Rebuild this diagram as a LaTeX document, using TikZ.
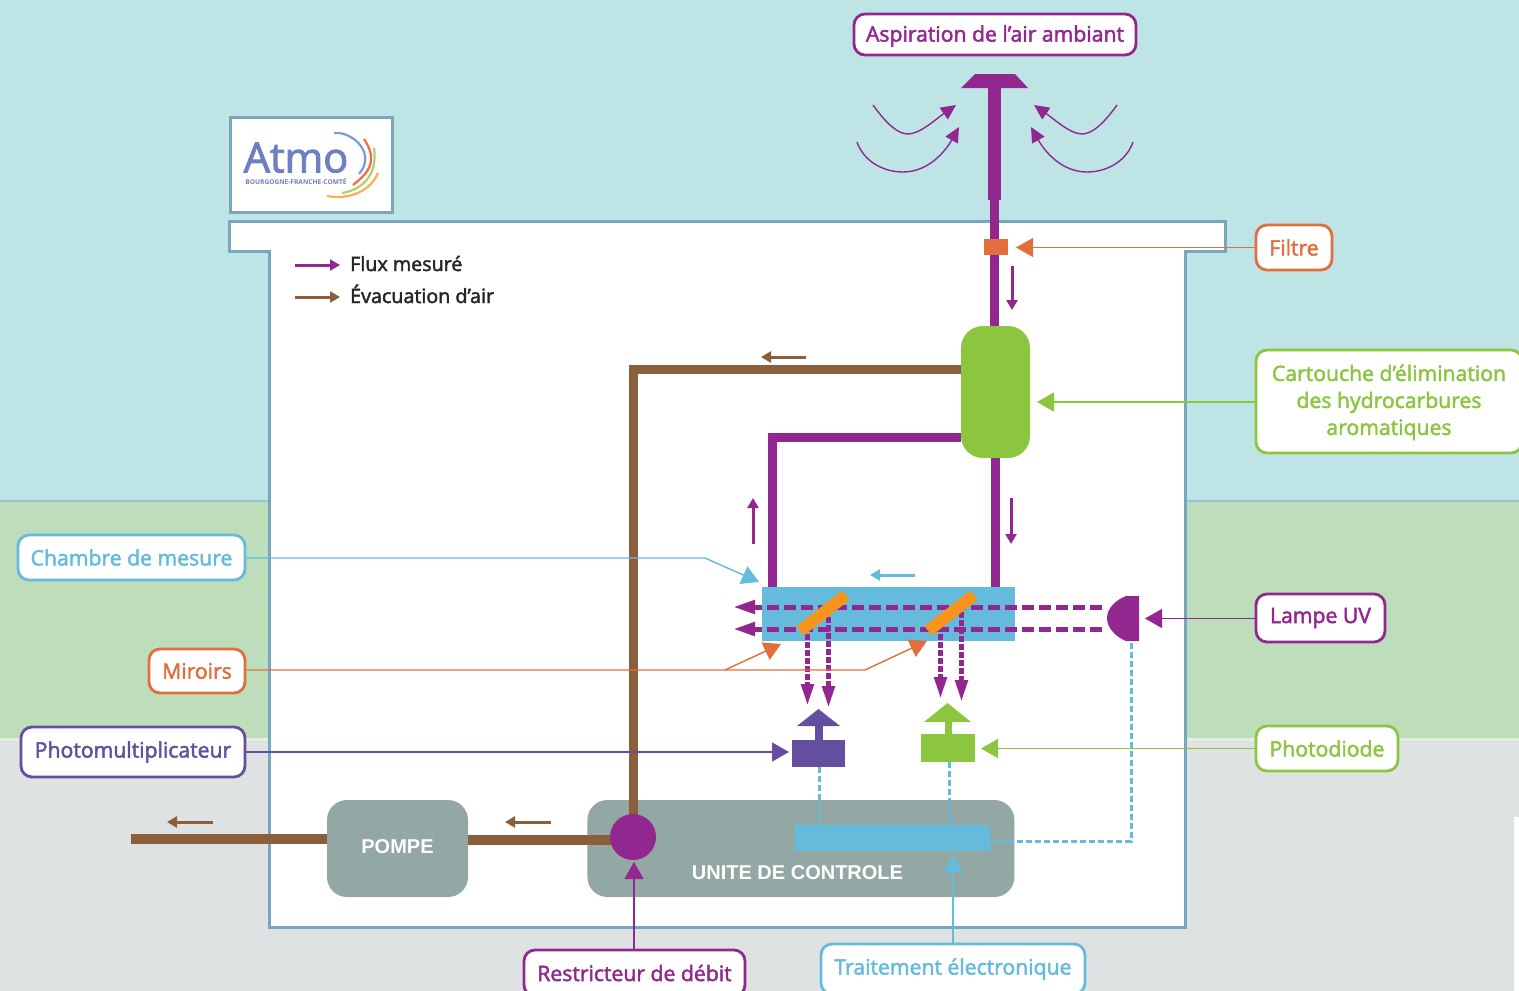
\documentclass[tikz,border=0pt]{standalone}
\usepackage{fontspec}
\setmainfont{Open Sans}
\newfontfamily\gras[RawFeature={embolden=2.2}]{Open Sans}
\newfontfamily\bandfont{Liberation Sans}
\usepackage{xcolor}
\usetikzlibrary{arrows.meta, positioning}

\definecolor{ciel}{HTML}{BFE4E6}
\definecolor{herbe}{HTML}{BEDDBB}
\definecolor{sol}{HTML}{DEE2E3}
\definecolor{mur}{HTML}{78A6BC}
\definecolor{flux}{HTML}{92278F}
\definecolor{evac}{HTML}{8B5E3C}
\definecolor{vert}{HTML}{8CC63F}
\definecolor{roux}{HTML}{E06F3D}
\definecolor{bleu}{HTML}{64BBDC}
\definecolor{indigo}{HTML}{644E9F}
\definecolor{gris}{HTML}{93A8A4}
\definecolor{miroir}{HTML}{F7941D}
\definecolor{atmo}{HTML}{6F7FC0}

\begin{document}
\begin{tikzpicture}[x=1pt, y=-1pt,
	bloc/.style={inner sep=0pt, minimum width=#1},
	lbl/.style={draw=#1, text=#1, fill=white, line width=2.8pt, rounded corners=11pt, align=center, inner sep=0pt, font=\gras\fontsize{21.2}{27}\selectfont},
	lien/.style={draw=#1, line width=1.4pt, -{Triangle[length=17pt, width=19pt, fill=#1]}},
	petite/.style={draw=#1, line width=3pt, -{Triangle[length=10pt, width=11pt, fill=#1]}},
	courbe/.style={draw=flux, line width=1.4pt, -{Triangle[length=15pt, width=14pt, fill=flux]}},
	rayon/.style={draw=flux, line width=5pt, dash pattern=on 12pt off 5pt, -{Triangle[length=22pt, width=13pt, fill=flux]}},
	sortie/.style={draw=flux, line width=5pt, dash pattern=on 5.5pt off 2.5pt, -{Triangle[length=22pt, width=12pt, fill=flux]}},
	signal/.style={draw=bleu, line width=3pt, dash pattern=on 6pt off 3pt},
	legende/.style={anchor=base west, inner sep=0pt, text=black!85, font=\gras\fontsize{19.7}{24}\selectfont},
	arc/.style={draw=#1, line width=2.2pt},
]
	\useasboundingbox (0,0) rectangle (1519,991);

	% fond
	\fill[ciel] (0,0) rectangle (1519,501);
	\fill[herbe] (0,501) rectangle (1519,740);
	\fill[sol] (0,740) rectangle (1519,991);
	\fill[white] (1514,817) rectangle (1519,991);
	\draw[mur!55!ciel, line width=2pt] (0,501) -- (1519,501);
	\draw[herbe!45!white, line width=2.5pt] (0,739.5) -- (1519,739.5);

	% batiment
	\draw[mur, line width=3pt, fill=white] (229,221) -- (1225,221) -- (1225,251) -- (1185,251) -- (1185,927) -- (269,927) -- (269,251) -- (229,251) -- cycle;

	% logo
	\node[draw=mur, line width=3pt, fill=white, inner sep=0pt, minimum width=162pt, minimum height=95pt] (logo) at (311,165) {};
	\node[text=atmo, inner sep=0pt, align=center] (atmo) at (296,163.5) {\gras\fontsize{41.5}{41.5}\selectfont Atmo\\\rmfamily\bfseries\fontsize{6.6}{9}\selectfont BOURGOGNE-FRANCHE-COMTÉ};
	\draw[arc=cyan!45!blue!55!white] (334,133) .. controls (352,131) and (377,153) .. (359,174);
	\draw[arc=red!60!orange!75] (364,139) .. controls (378,160) and (370,172) .. (353,185);
	\draw[arc=vert!75] (374,148) .. controls (378,175) and (362,190) .. (342,193);
	\draw[arc=orange!65] (378,173) .. controls (370,192) and (348,200) .. (327,196);

	% legende
	\coordinate (legA) at (295,265);
	\coordinate (legB) at (295,297);
	\coordinate (legAb) at (340,265);
	\coordinate (legBb) at (340,297);
	\node[legende] (fluxtxt) at (350,271) {Flux mesuré};
	\node[legende] (evactxt) at (350,303) {Évacuation d’air};
	\path (legA) edge[petite=flux] (legAb);
	\path (legB) edge[petite=evac] (legBb);

	% boites
	\node[fill=vert, rounded corners=22pt, bloc=69pt, minimum height=132pt] (cartouche) at (995.5,392) {};
	\node[fill=gris, rounded corners=20pt, bloc=141pt, minimum height=97pt] (pompe) at (397.5,848.5) {};
	\node[fill=gris, rounded corners=20pt, bloc=427pt, minimum height=97pt] (unite) [right=119pt of pompe] {};
	\node[fill=bleu, bloc=195pt, minimum height=26pt] (traitement) at (892.5,838) {};
	\node[fill=bleu, bloc=253pt, minimum height=54pt] (chambre) at (888.5,614) {};
	\node[fill=flux, bloc=13pt, minimum height=112pt] (tige) at (994.5,144) {};
	\node[text=white, font=\bandfont\bfseries\fontsize{20}{24}\selectfont] (pompetxt) at (397.5,847) {POMPE};
	\node[text=white, font=\bandfont\bfseries\fontsize{20}{24}\selectfont] (unitetxt) at (797.5,873) {UNITE DE CONTROLE};
	\fill[flux] (961,88) -- (975,74) -- (1015,74) -- (1028,88) -- cycle;

	% canalisations
	\coordinate (coudeA) at (633,369);
	\coordinate (coudeB) at (772,437);
	\coordinate (cartA) at (961,369);
	\coordinate (cartB) at (961,437);
	\coordinate (chamB) at (772,587);
	\coordinate (chamC) at (995,587);
	\coordinate (cartC) at (995,458);
	\coordinate (centreR) at (633,837);
	\draw[evac, line width=9pt] (cartA) -- (coudeA) -- (centreR);
	\draw[evac, line width=10pt] (pompe.east |- 0,840) -- (centreR |- 0,840);
	\draw[evac, line width=10pt] (131,839) coordinate (rejet) -- (pompe.west |- rejet);
	\draw[flux, line width=9pt] (tige.south) -- (tige.south |- cartouche.north);
	\draw[flux, line width=9pt] (cartC) -- (chamC);
	\draw[flux, line width=9pt] (cartB) -- (coudeB) -- (chamB);
	\node[fill=roux, bloc=24pt, minimum height=16pt] (filtre) [above=71pt of cartouche] {};
	\node[fill=flux, circle, inner sep=0pt, minimum size=46pt] (restricteur) at (centreR) {};

	% air ambiant
	\draw[courbe] (873,105) .. controls (888,126) and (899,134) .. (908,134) .. controls (920,134) and (936,119) .. (956,105);
	\draw[courbe] (857,142) .. controls (864,162) and (884,172) .. (903,172) .. controls (928,172) and (945,152) .. (959,127);
	\draw[courbe] (1117,105) .. controls (1102,126) and (1091,134) .. (1082,134) .. controls (1070,134) and (1054,119) .. (1034,105);
	\draw[courbe] (1133,142) .. controls (1126,162) and (1106,172) .. (1087,172) .. controls (1062,172) and (1045,152) .. (1031,127);

	% lampe et rayons
	\fill[flux] (1139,596) -- (1126,596) .. controls (1116,600) and (1107,608) .. (1107,618) .. controls (1107,628) and (1116,637) .. (1126,641) -- (1139,641) -- cycle;
	\coordinate (rayonA) at (1102,607);
	\coordinate (rayonB) at (1102,629);
	\coordinate (finA) at (733,607);
	\coordinate (finB) at (733,629);
	\path (rayonA) edge[rayon] (finA);
	\path (rayonB) edge[rayon] (finB);

	\coordinate (sA) at (807.5,634);
	\coordinate (sB) at (828.5,617);
	\coordinate (sC) at (940.5,634);
	\coordinate (sD) at (961.5,612);
	\coordinate (tA) at (807.5,706);
	\coordinate (tB) at (828.5,708);
	\coordinate (tC) at (940.5,699);
	\coordinate (tD) at (961.5,702);
	\path (sA) edge[sortie] (tA) (sB) edge[sortie] (tB) (sC) edge[sortie] (tC) (sD) edge[sortie] (tD);
	\node[fill=miroir, rotate=38, bloc=58pt, minimum height=12pt] (miroirA) at (823,613) {};
	\node[fill=miroir, rotate=38, bloc=58pt, minimum height=12pt] (miroirB) at (951,613) {};

	% detecteurs
	\node[fill=indigo, bloc=53pt, minimum height=27pt] (pm) at (818.5,753.5) {};
	\node[fill=indigo, bloc=8pt, minimum height=15pt] (pmtige) [above=0pt of pm] {};
	\fill[indigo] (797,726) -- (818.5,709) -- (840,726) -- cycle;
	\node[fill=vert, bloc=54pt, minimum height=28pt] (pd) at (948,748) {};
	\node[fill=vert, bloc=7pt, minimum height=12pt] (pdtige) [above=0pt of pd] {};
	\fill[vert] (924,722) -- (947.5,703) -- (971,722) -- cycle;

	% liaisons de mesure
	\coordinate (pmB) at (819,825);
	\coordinate (pdB) at (949.5,825);
	\coordinate (pmA) at (819,767);
	\coordinate (pdA) at (949.5,762);
	\coordinate (lampeA) at (1131,643);
	\coordinate (lampeB) at (1131,841);
	\coordinate (traitD) at (990,841);
	\draw[signal] (pmA) -- (pmB);
	\draw[signal] (pdA) -- (pdB);
	\draw[signal] (lampeA) -- (lampeB) -- (traitD);

	% petites fleches
	\coordinate (fA) at (1012,266);
	\coordinate (fAb) at (1012,310);
	\coordinate (fB) at (1011,498);
	\coordinate (fBb) at (1011,544);
	\coordinate (fC) at (753,544);
	\coordinate (fCb) at (753,498);
	\coordinate (fD) at (915,575);
	\coordinate (fDb) at (870,575);
	\coordinate (fE) at (806,357);
	\coordinate (fEb) at (761,357);
	\coordinate (fF) at (551,822);
	\coordinate (fFb) at (505,822);
	\coordinate (fG) at (213,822);
	\coordinate (fGb) at (167,822);
	\path (fA) edge[petite=flux] (fAb) (fB) edge[petite=flux] (fBb) (fC) edge[petite=flux] (fCb);
	\path (fD) edge[petite=bleu] (fDb);
	\path (fE) edge[petite=evac] (fEb) (fF) edge[petite=evac] (fFb) (fG) edge[petite=evac] (fGb);

	% etiquettes
	\node[lbl=flux, minimum width=282pt, minimum height=41pt, text depth=2pt] (aspiration) at (995,34.5) {Aspiration de l’air ambiant};
	\node[lbl=roux, minimum width=76pt, minimum height=45pt] (lblfiltre) at (1294,247.5) {Filtre};
	\node[lbl=vert, minimum width=266pt, minimum height=103pt] (lblcartouche) at (1389,401.5) {\rule{0pt}{18pt}Cartouche d’élimination\\des hydrocarbures\\aromatiques};
	\node[lbl=flux, minimum width=129pt, minimum height=48pt] (lbllampe) at (1320.5,618) {Lampe UV};
	\node[lbl=vert, minimum width=142pt, minimum height=45pt] (lblphotodiode) at (1327,748.5) {Photodiode};
	\node[lbl=bleu, minimum width=227pt, minimum height=45pt] (lblchambre) at (131.5,557.5) {Chambre de mesure};
	\node[lbl=roux, minimum width=96pt, minimum height=44pt] (lblmiroirs) at (197,671) {Miroirs};
	\node[lbl=indigo, minimum width=224pt, minimum height=50pt] (lblpm) at (133,752) {Photomultiplicateur};
	\node[lbl=flux, minimum width=221pt, minimum height=46pt] (lblrestricteur) at (634.5,973) {Restricteur de débit};
	\node[lbl=bleu, minimum width=264pt, minimum height=50pt] (lbltraitement) at (953,969) {Traitement électronique};

	% renvois
	\coordinate (vFiltre) at (1016,247.5);
	\coordinate (vCartouche) at (1037,402);
	\coordinate (vLampe) at (1145,618.5);
	\coordinate (vPd) at (981,748.5);
	\coordinate (vPm) at (789,752);
	\coordinate (vRestr) at (634,862);
	\coordinate (vTrait) at (953,855);
	\coordinate (coudeC) at (705,558);
	\coordinate (vChambre) at (759,582);
	\coordinate (coudeD) at (865,670);
	\coordinate (vMiroirB) at (927,641);
	\coordinate (departM) at (725,670);
	\coordinate (vMiroirA) at (781,644);
	\path (lblfiltre.west) edge[lien=roux] (vFiltre);
	\path (lblcartouche.west |- vCartouche) edge[lien=vert] (vCartouche);
	\path (lbllampe.west |- vLampe) edge[lien=flux] (vLampe);
	\path (lblphotodiode.west) edge[lien=vert] (vPd);
	\path (lblpm.east) edge[lien=indigo] (vPm);
	\path (lblrestricteur.north -| vRestr) edge[lien=flux] (vRestr);
	\path (lbltraitement.north) edge[lien=bleu] (vTrait);
	\draw[lien=bleu] (lblchambre.east |- coudeC) -- (coudeC) -- (vChambre);
	\draw[lien=roux] (lblmiroirs.east |- coudeD) -- (coudeD) -- (vMiroirB);
	\path (departM) edge[lien=roux] (vMiroirA);

\end{tikzpicture}
\end{document}
